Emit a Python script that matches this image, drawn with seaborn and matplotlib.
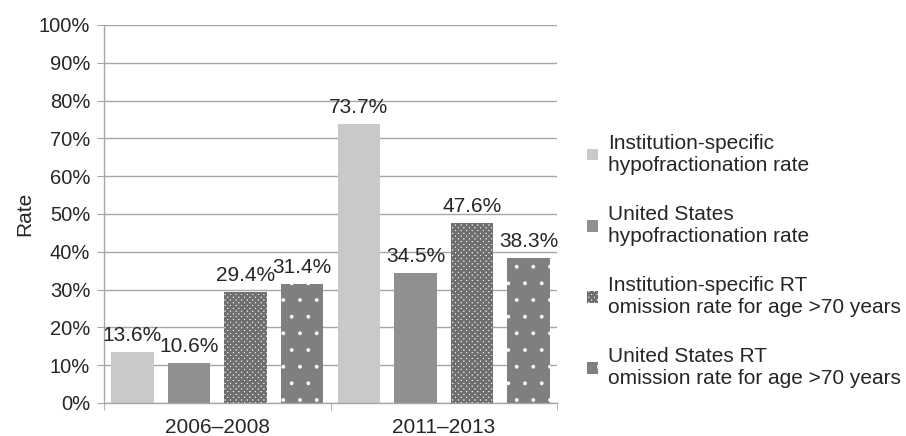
import pandas as pd
import matplotlib
matplotlib.use("Agg")
import matplotlib.pyplot as plt
from matplotlib.patches import Patch
from matplotlib.ticker import FixedLocator, PercentFormatter
import seaborn as sns

# data
periods = ["2006\u20132008", "2011\u20132013"]
series = [
    "Institution-specific\nhypofractionation rate",
    "United States\nhypofractionation rate",
    "Institution-specific RT\nomission rate for age >70 years",
    "United States RT\nomission rate for age >70 years",
]
inst_hypo = [13.6, 73.7]
us_hypo = [10.6, 34.5]
inst_omit = [29.4, 47.6]
us_omit = [31.4, 38.3]

colors = ["#c8c9ca", "#8f8f8f", "#ffffff", "#7f7f7f"]
hatch_colors = ["#c8c9ca", "#8f8f8f", "#6f6f6f", "#ffffff"]
hatches = ["", "", "xxxxxx", "."]
hatch_lw = [1.0, 1.0, 1.9, 0.3]

rows = []
for name, vals in zip(series, [inst_hypo, us_hypo, inst_omit, us_omit]):
    for p, v in zip(periods, vals):
        rows.append({"period": p, "series": name, "rate": v})
df = pd.DataFrame(rows)

sns.set_style("white")
plt.rcParams["font.family"] = ["Liberation Sans", "DejaVu Sans"]
plt.rcParams["hatch.linewidth"] = 1.9


def style_patch(p, hc, h, lw):
    p.set_hatch(h)
    p.set_edgecolor(hc)
    p.set_linewidth(0)
    if hasattr(p, "set_hatch_linewidth"):
        p.set_hatch_linewidth(lw)


fig = plt.figure(figsize=(9.06, 4.36), dpi=100)
ax = fig.add_axes([0.1148, 0.0757, 0.5, 0.867])

sns.barplot(data=df, x="period", y="rate", hue="series", hue_order=series,
            palette=colors, width=1.0, gap=0.25, legend=False, ax=ax,
            linewidth=0, saturation=1)

for cont, hc, h, lw in zip(ax.containers, hatch_colors, hatches, hatch_lw):
    for bar in cont:
        style_patch(bar, hc, h, lw)
    ax.bar_label(cont, labels=[f"{b.get_height():.1f}%" for b in cont],
                 padding=5, fontsize=15)

ax.set_ylim(0, 100)
ax.set_xlim(-0.5, 1.5)
ax.yaxis.set_major_locator(FixedLocator(range(0, 101, 10)))
ax.yaxis.set_major_formatter(PercentFormatter(decimals=0))
ax.grid(axis="y", color="#a6a6a6", linewidth=1)
ax.set_axisbelow(True)
for s in ["top", "right"]:
    ax.spines[s].set_visible(False)
for s in ["left", "bottom"]:
    ax.spines[s].set_color("#a6a6a6")
    ax.spines[s].set_linewidth(1)

ax.xaxis.set_minor_locator(FixedLocator([-0.5, 0.5, 1.5]))
ax.tick_params(axis="x", which="major", length=0, labelsize=15, pad=11)
ax.tick_params(axis="x", which="minor", length=5, color="#a6a6a6", direction="out", bottom=True)
ax.tick_params(axis="y", length=5, color="#a6a6a6", direction="out", left=True, labelsize=14.5, pad=5)
ax.set_xlabel("")
ax.set_ylabel("Rate", fontsize=15, labelpad=3.5)

handles = []
for c, hc, h, lw in zip(colors, hatch_colors, hatches, hatch_lw):
    p = Patch(facecolor=c)
    style_patch(p, hc, h, lw)
    handles.append(p)
fig.legend(handles, series, loc="center left", bbox_to_anchor=(0.648, 0.401),
           frameon=False, fontsize=15, handlelength=0.5, handleheight=0.5,
           handletextpad=0.5, labelspacing=1.45, borderpad=0, borderaxespad=0)

fig.savefig("out.png", dpi=100)
